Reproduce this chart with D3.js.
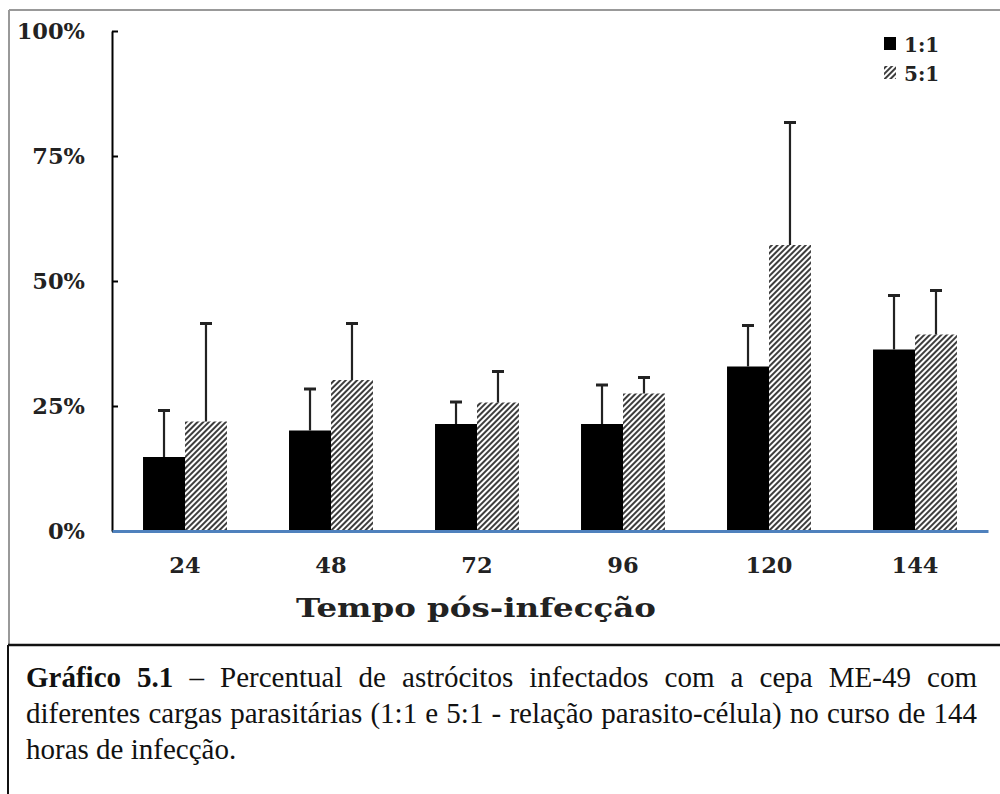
<!DOCTYPE html>
<html>
<head>
<meta charset="utf-8">
<script src="https://cdn.jsdelivr.net/npm/d3@7"></script>
<style>
  body { margin: 0; background: #fff; }
  svg { display: block; }
  .lbl { font-family: 'DejaVu Serif', serif; font-weight: bold; fill: #222; }
</style>
</head>
<body>
<svg id="chart" width="1000" height="794"></svg>
<script>
// hours post-infection
const horas = ['24', '48', '72', '96', '120', '144']
const series = ['1:1', '5:1']
// mean % infected (fraction) and upper error (SD)
const media11 = [0.148, 0.201, 0.214, 0.214, 0.329, 0.363]
const erro11 = [0.093, 0.083, 0.044, 0.078, 0.082, 0.108]
const media51 = [0.219, 0.302, 0.257, 0.275, 0.572, 0.393]
const erro51 = [0.196, 0.113, 0.062, 0.032, 0.245, 0.088]
const yTicks = [0, 0.25, 0.5, 0.75, 1]
const xTitle = 'Tempo pós-infecção'
const captionLines = [
  ['Gráfico 5.1', ' – Percentual de astrócitos infectados com a cepa ME-49 com'],
  ['', 'diferentes cargas parasitárias (1:1 e 5:1 - relação parasito-célula) no curso de 144'],
  ['', 'horas de infecção.']
]

const svg = d3.select('#chart')
const plot = { left: 112, right: 988, top: 31, bottom: 531 }
const serifFont = "'Liberation Serif', 'Times New Roman', serif"

const dados = horas.map((h, i) => ({
  hora: h,
  vals: [
    { s: series[0], v: media11[i], e: erro11[i] },
    { s: series[1], v: media51[i], e: erro51[i] }
  ]
}))

// hatch for 5:1
const defs = svg.append('defs')
const pat = defs.append('pattern')
  .attr('id', 'hatch')
  .attr('patternUnits', 'userSpaceOnUse')
  .attr('width', 4)
  .attr('height', 4)
  .attr('patternTransform', 'rotate(45)')
pat.append('rect').attr('width', 4).attr('height', 4).attr('fill', '#fff')
pat.append('line')
  .attr('x1', 1).attr('y1', 0).attr('x2', 1).attr('y2', 4)
  .attr('stroke', '#333').attr('stroke-width', 1.9)

const fills = { '1:1': '#000', '5:1': 'url(#hatch)' }

// frames
svg.append('line').attr('x1', 9).attr('x2', 1000).attr('y1', 10).attr('y2', 10)
  .attr('stroke', '#999').attr('stroke-width', 2)
svg.append('line').attr('x1', 9).attr('x2', 9).attr('y1', 10).attr('y2', 645)
  .attr('stroke', '#999').attr('stroke-width', 2)
svg.append('line').attr('x1', 8).attr('x2', 1000).attr('y1', 645).attr('y2', 645)
  .attr('stroke', '#111').attr('stroke-width', 2.5)
svg.append('line').attr('x1', 8).attr('x2', 8).attr('y1', 645).attr('y2', 794)
  .attr('stroke', '#111').attr('stroke-width', 2)

const x = d3.scaleBand()
  .domain(horas)
  .range([plot.left, plot.right])
  .paddingInner(0.425)
  .paddingOuter(0.2125)

const xs = d3.scaleBand().domain(series).range([0, x.bandwidth()])

const y = d3.scaleLinear().domain([0, 1]).range([plot.bottom, plot.top])

// y axis
const axisY = d3.axisLeft(y)
  .tickValues(yTicks)
  .tickFormat(d3.format('.0%'))
  .tickSizeInner(-6)
  .tickSizeOuter(0)
  .tickPadding(27)

const gy = svg.append('g')
  .attr('transform', `translate(${plot.left},0)`)
  .call(axisY)
gy.select('.domain').attr('stroke', '#000').attr('stroke-width', 2)
gy.selectAll('.tick line').attr('stroke', '#000').attr('stroke-width', 2)
gy.selectAll('.tick text').attr('class', 'lbl').style('font-size', '22.5px').attr('fill', '#222')

// bars
const groups = svg.append('g').selectAll('g')
  .data(dados)
  .join('g')
  .attr('transform', d => `translate(${x(d.hora)},0)`)

groups.selectAll('rect')
  .data(d => d.vals)
  .join('rect')
  .attr('x', d => xs(d.s))
  .attr('width', xs.bandwidth())
  .attr('y', d => y(d.v))
  .attr('height', d => y(0) - y(d.v))
  .attr('fill', d => fills[d.s])

// error bars (upper only)
const eb = groups.selectAll('.err')
  .data(d => d.vals)
  .join('g')
  .attr('class', 'err')
  .attr('stroke', '#222')
eb.append('line')
  .attr('x1', d => xs(d.s) + xs.bandwidth() / 2)
  .attr('x2', d => xs(d.s) + xs.bandwidth() / 2)
  .attr('y1', d => y(d.v))
  .attr('y2', d => y(d.v + d.e))
  .attr('stroke-width', 2.2)
eb.append('line')
  .attr('x1', d => xs(d.s) + xs.bandwidth() / 2 - 6)
  .attr('x2', d => xs(d.s) + xs.bandwidth() / 2 + 6)
  .attr('y1', d => y(d.v + d.e))
  .attr('y2', d => y(d.v + d.e))
  .attr('stroke-width', 3)

// x axis (blue baseline)
const axisX = d3.axisBottom(x).tickSize(0).tickPadding(26)
const gx = svg.append('g')
  .attr('transform', `translate(0,${plot.bottom})`)
  .call(axisX)
gx.select('.domain').attr('stroke', '#4f81bd').attr('stroke-width', 3)
gx.selectAll('.tick text').attr('class', 'lbl').style('font-size', '22.5px').attr('fill', '#222')

svg.append('text')
  .attr('class', 'lbl')
  .attr('x', 296)
  .attr('y', 617)
  .style('font-size', '26px')
  .attr('textLength', 360)
  .attr('lengthAdjust', 'spacingAndGlyphs')
  .text(xTitle)

// legend
const leg = svg.append('g').attr('transform', 'translate(884,38)')
leg.selectAll('g')
  .data(series)
  .join('g')
  .attr('transform', (d, i) => `translate(0,${i * 29})`)
  .call(g => {
    g.append('rect').attr('y', -1).attr('width', 12).attr('height', 13).attr('fill', d => fills[d])
    g.append('text').attr('class', 'lbl').attr('x', 20).attr('y', 14)
      .style('font-size', '20px').text(d => d)
  })

// caption, justified like the source document
const cap = svg.append('g')
captionLines.forEach((ln, i) => {
  const t = cap.append('text')
    .attr('font-family', serifFont)
    .attr('font-size', 29)
    .attr('fill', '#111')
    .attr('x', 26)
    .attr('y', 687 + i * 36)
  if (ln[0]) t.append('tspan').attr('font-weight', 'bold').text(ln[0])
  t.append('tspan').text(ln[1])
  if (i < captionLines.length - 1) {
    const natural = t.node().getComputedTextLength()
    const gaps = (t.text().match(/ /g) || []).length
    t.attr('word-spacing', ((977 - 26 - natural) / gaps) + 'px')
  }
})
</script>
</body>
</html>
